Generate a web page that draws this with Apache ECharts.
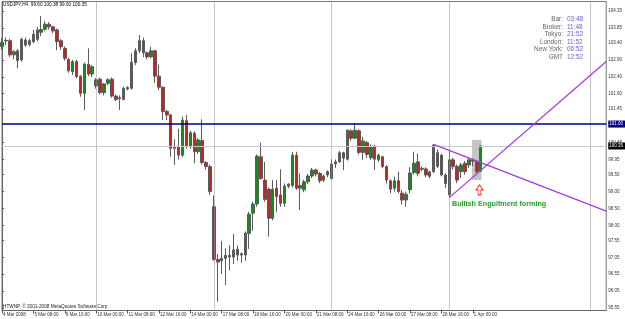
<!DOCTYPE html>
<html><head><meta charset="utf-8">
<script src="https://cdn.jsdelivr.net/npm/echarts@6.0.0/dist/echarts.min.js"></script>
<style>html,body{margin:0;padding:0;background:#fff}#c{width:625px;height:319px}</style>
</head><body><div id="c"></div>
<script>
// ---- data (USDJPY, H4, 4 Mar 2008 – 1 Apr 2008) ----
const opens  = [103.30,103.46,103.47,103.05,103.17,102.90,103.49,103.36,103.44,103.51,103.72,103.81,103.96,103.88,103.79,103.47,103.24,102.92,102.55,102.85,102.42,101.91,102.77,102.48,
102.13,102.33,101.93,102.21,102.33,101.83,101.75,101.73,102.04,102.06,102.82,103.17,103.47,103.11,102.99,103.17,102.42,102.09,101.37,101.27,100.28,100.33,100.08,101.10,100.33,100.73,100.18,100.51,99.86,99.74,
98.55,96.99,96.95,97.02,97.11,97.06,97.29,97.12,97.12,97.76,98.36,98.63,100.03,99.34,99.07,98.21,99.10,98.90,98.65,99.22,99.18,100.08,99.10,99.05,99.29,99.46,99.64,99.54,99.34,99.49,
99.39,99.82,99.88,100.15,99.96,100.80,100.58,100.80,100.16,100.45,100.00,100.35,99.94,100.03,99.74,99.32,99.10,99.32,98.95,98.75,99.05,99.56,99.88,99.69,99.67,99.45,99.59,100.15,100.08,99.49,
98.90,99.94,99.74,99.59,99.84,99.79,99.94,99.88,99.60];
const highs  = [103.55,103.57,103.52,103.19,103.22,103.56,103.56,103.52,103.79,103.88,104.20,104.05,104.02,103.92,103.83,103.52,103.30,102.96,102.90,102.90,102.45,102.82,103.24,102.75,
102.36,102.38,102.22,102.36,102.38,101.87,101.85,102.10,102.12,103.10,103.25,103.64,103.56,103.15,103.29,103.20,102.76,102.12,101.42,101.30,100.55,100.86,101.22,101.27,100.80,100.78,100.58,101.14,99.90,99.80,
98.88,97.15,97.54,97.32,97.41,97.74,97.40,97.20,97.82,98.40,98.70,100.10,100.45,99.88,99.12,99.34,99.34,99.66,99.24,99.25,100.18,100.18,99.54,99.35,99.52,99.70,99.68,99.58,99.50,99.63,
99.95,99.95,100.20,100.18,100.84,100.84,101.02,100.85,100.62,100.50,100.40,100.38,100.12,100.06,99.78,99.36,99.44,99.59,99.05,99.00,99.72,100.18,100.13,99.75,99.72,99.62,100.40,100.25,100.12,99.55,
100.23,100.00,99.80,99.85,99.90,100.00,99.98,99.92,100.38];
const lows   = [103.20,103.34,102.99,102.92,102.65,102.85,103.28,103.30,103.40,103.45,103.60,103.75,103.80,103.70,103.19,103.20,102.88,102.52,102.45,102.36,101.81,101.42,102.42,102.40,
102.05,101.88,101.85,102.15,101.78,101.68,101.42,101.70,102.00,102.02,102.75,103.10,102.98,102.92,102.95,102.22,102.00,101.12,101.12,100.03,99.79,99.95,100.02,100.28,100.27,99.84,100.12,99.80,99.65,98.90,
96.95,95.74,96.56,96.23,96.66,96.85,96.95,96.89,96.95,97.30,97.84,98.55,99.35,98.70,97.66,98.15,98.40,98.55,98.55,99.10,99.12,99.05,98.45,98.98,99.22,99.40,99.45,99.25,99.28,99.43,
99.35,99.70,99.85,99.64,99.92,100.50,100.55,100.10,99.94,100.00,99.94,99.64,99.88,99.70,99.24,98.95,99.00,98.95,98.62,98.55,98.95,99.50,99.45,99.60,99.42,99.40,99.55,99.70,99.45,99.10,
98.82,99.65,99.25,99.40,99.50,99.70,99.75,99.55,99.60];
const closes = [103.42,103.48,103.05,103.14,102.88,103.51,103.34,103.47,103.66,103.79,103.80,103.96,103.88,103.76,103.44,103.29,102.95,102.58,102.85,102.40,101.91,102.78,102.48,102.70,
102.31,101.93,102.19,102.31,101.83,101.73,101.78,102.06,102.08,102.83,103.17,103.47,103.11,102.99,103.17,102.42,102.09,101.37,101.27,100.28,100.31,100.08,101.12,100.33,100.74,100.18,100.53,99.86,99.74,99.00,
96.99,96.91,97.02,97.11,97.06,97.27,97.12,97.16,97.77,98.33,98.63,100.05,99.39,98.77,98.21,99.07,98.85,98.65,99.16,99.16,100.08,99.10,99.18,99.29,99.46,99.64,99.52,99.32,99.46,99.59,
99.82,99.88,100.15,99.99,100.82,100.58,100.82,100.16,100.50,100.10,100.33,99.96,100.08,99.74,99.34,99.07,99.32,99.00,98.75,98.92,99.55,99.84,99.54,99.66,99.49,99.58,100.38,99.75,99.49,99.24,
99.94,99.74,99.34,99.79,99.59,99.94,99.90,99.59,100.35];

const slotCount = 155;            // bar slots on the time axis (incl. chart shift)
const tickStep = 8;               // one time label every 8 H4 bars
const tickLabels = ['4 Mar 2008','5 Mar 08:00','6 Mar 16:00','10 Mar 00:00','11 Mar 08:00','12 Mar 16:00','14 Mar 00:00','17 Mar 08:00','18 Mar 16:00','20 Mar 00:00','21 Mar 08:00','24 Mar 16:00','26 Mar 00:00','27 Mar 08:00','28 Mar 16:00','1 Apr 00:00'];
const priceTicks = [104.35,103.85,103.40,102.90,102.40,101.90,101.45,100.45,99.95,99.50,99.00,98.50,98.00,97.55,97.05,96.55,96.05,95.55];
const priceMin = 95.476, priceMax = 104.631;
const weekSeparators = [24, 54, 84, 114, 150];
const resistanceLevel = 101.00;
const bidPrice = 100.35;
const upperTrend = [[110, 100.40], [154, 98.42]];
const lowerTrend = [[114, 98.82], [154, 102.85]];
const highlightBox = [[119.8, 100.53], [122.2, 99.34]];
const arrowPoint = [121.7, 99.05];
const headerText = 'USDJPY,H4  99.60 100.38 99.60 100.35';
const copyrightText = 'HTWNP, \u00a9 2001-2008 MetaQuotes Software Corp.';
const noteText = 'Bullish Engulfment forming';
const infoLabels = ['Bar:','Broker:','Tokyo:','London:','New York:','GMT'];
const infoValues = ['03:48','11:48','21:52','11:52','06:52','12:52'];

// ---- build ----
const slots = Array.from({length: slotCount}, (_, i) => String(i));
const candles = opens.map((o, i) => [o, closes[i], lows[i], highs[i]]);
const isTick = i => i % tickStep === 0 && i / tickStep < tickLabels.length;
const FONT = 'Liberation Sans, Arial, sans-serif';

const graphics = [
  {type:'text', x:3, y:5, style:{text:headerText, fill:'#000', font:'4.7px ' + FONT, verticalAlign:'middle'}},
  {type:'text', x:3, y:306.5, style:{text:copyrightText, fill:'#222', font:'4.7px ' + FONT, verticalAlign:'middle'}},
  {type:'text', x:452, y:204, style:{text:noteText, fill:'#2f9a2f', font:'bold 7.2px ' + FONT, verticalAlign:'middle'}}
];
infoLabels.forEach((t, i) => {
  const y = 19.3 + i * 7.6;
  graphics.push({type:'text', x:563, y:y, style:{text:t, fill:'#666', font:'6.4px ' + FONT, align:'right', verticalAlign:'middle'}});
  graphics.push({type:'text', x:567, y:y, style:{text:infoValues[i], fill:'#6a5ad8', font:'6.4px ' + FONT, align:'left', verticalAlign:'middle'}});
});

const chart = echarts.init(document.getElementById('c'), null, {renderer:'canvas'});
chart.setOption({
  animation: false,
  backgroundColor: '#ffffff',
  grid: {left: 2, top: 1.5, right: 18, bottom: 8.5, show: true, borderColor: '#777', borderWidth: 1, backgroundColor: '#fff'},
  xAxis: [
    {type:'category', data: slots, boundaryGap:false,
     axisLine:{show:true, lineStyle:{color:'#666', width:1}},
     axisTick:{show:true, interval:(i) => isTick(i), length:3, lineStyle:{color:'#555'}},
     axisLabel:{show:true, interval:(i) => isTick(i), formatter:(v, i) => tickLabels[i / tickStep],
       align:'left', fontSize:4.5, fontFamily:FONT, color:'#333', margin:1.5, padding:[0,0,0,1]},
     splitLine:{show:false}},
    {type:'value', min:0, max:slotCount - 1, show:false}
  ],
  yAxis: {type:'value', position:'right', min:priceMin, max:priceMax, scale:true,
    axisLine:{show:true, lineStyle:{color:'#666'}},
    axisTick:{show:true, customValues:priceTicks, length:2, lineStyle:{color:'#555'}},
    axisLabel:{show:true, customValues:priceTicks, formatter:v => v.toFixed(2), fontSize:4.5, fontFamily:FONT, color:'#333', margin:2},
    splitLine:{show:false}},
  graphic: graphics,
  series: [
    {type:'line', xAxisIndex:1, data:[], z:1, silent:true,
     markLine:{silent:true, symbol:'none', animation:false,
       lineStyle:{type:'dotted', color:'#8a8a8a', width:1},
       label:{show:false},
       data: weekSeparators.map(k => ({xAxis:k}))},
     markArea:{silent:true, itemStyle:{color:'#c4c4c4'},
       data:[[{coord:highlightBox[0]}, {coord:highlightBox[1]}]]}
    },
    {type:'candlestick', data:candles, z:3, barWidth:3,
     itemStyle:{color:'#178a17', color0:'#c32424', borderColor:'#5a5a5a', borderColor0:'#5a5a5a', borderWidth:1}
    },
    {type:'line', xAxisIndex:1, data:[], z:4, silent:true,
     markLine:{silent:true, symbol:'none', animation:false,
       data:[
         {yAxis:bidPrice, lineStyle:{color:'#c8c8c8', width:1, type:'solid'},
          label:{show:true, position:'end', formatter:bidPrice.toFixed(2), color:'#fff', backgroundColor:'#000', fontSize:4.5, fontFamily:FONT, padding:[1,2,1,1], distance:2}},
         {yAxis:resistanceLevel, lineStyle:{color:'#000080', width:1.5, type:'solid'},
          label:{show:true, position:'end', formatter:resistanceLevel.toFixed(2), color:'#fff', backgroundColor:'#000080', fontSize:4.5, fontFamily:FONT, padding:[1,2,1,1], distance:2}}
       ]}
    },
    {type:'line', xAxisIndex:1, data:upperTrend, z:5, symbol:'none', silent:true, lineStyle:{color:'#a43ce0', width:1.3}},
    {type:'line', xAxisIndex:1, data:lowerTrend, z:5, symbol:'none', silent:true, lineStyle:{color:'#a43ce0', width:1.3}},
    {type:'line', xAxisIndex:1, data:[], z:6, silent:true,
     markPoint:{silent:true, symbol:'path://M5,0 L10,6 L7,6 L7,12 L3,12 L3,6 L0,6 Z', symbolSize:[7,10],
       itemStyle:{color:'#fff', borderColor:'#ff3030', borderWidth:1},
       label:{show:false},
       data:[{coord:arrowPoint}]}
    }
  ]
});
</script></body></html>
